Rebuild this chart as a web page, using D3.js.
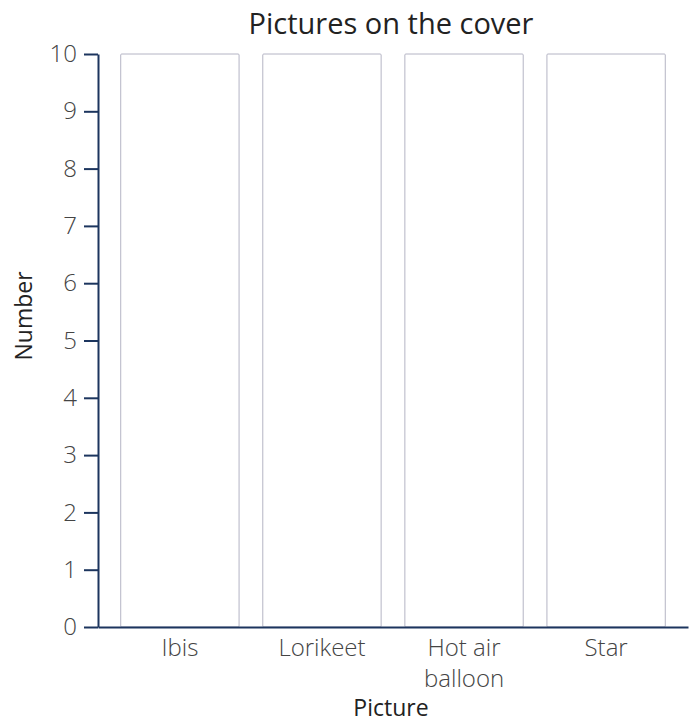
<!DOCTYPE html>
<html><head><meta charset="utf-8">
<script src="https://cdn.jsdelivr.net/npm/d3@7"></script>
<style>body{margin:0;background:#fff}text{font-family:"Open Sans",Lato,sans-serif}</style>
</head><body><svg id="c" width="691" height="722"></svg>
<script>
const categories = ["Ibis", "Lorikeet", "Hot air balloon", "Star"];
const labelLines = [["Ibis"], ["Lorikeet"], ["Hot air", "balloon"], ["Star"]];
const values = [10, 10, 10, 10];
const yTicks = [0,1,2,3,4,5,6,7,8,9,10];

const svg = d3.select("#c");
const m = {left: 98, right: 688, top: 54, bottom: 627};
const x = d3.scaleBand().domain(categories).range([m.left, m.right]).paddingInner(0.167).paddingOuter(0.16);
const y = d3.scaleLinear().domain([0, 10]).range([m.bottom, m.top]);
const axisColor = "#1c355e";

svg.append("g").selectAll("rect").data(categories).join("rect")
  .attr("x", d => x(d)).attr("y", (d,i) => y(values[i]))
  .attr("width", x.bandwidth()).attr("height", (d,i) => y(0) - y(values[i]))
  .attr("fill", "#fff").attr("stroke", "#b4b4c4").attr("stroke-width", 1).attr("rx", 1);

const ya = svg.append("g").attr("transform", `translate(${m.left},0)`)
  .call(d3.axisLeft(y).tickValues(yTicks).tickSize(14).tickPadding(7).tickSizeOuter(0));
ya.attr("font-family", null);
ya.select(".domain").attr("stroke", axisColor).attr("stroke-width", 2);
ya.selectAll(".tick line").attr("stroke", axisColor).attr("stroke-width", 2);
ya.selectAll(".tick text").attr("font-size", 24).attr("font-weight", 300).attr("fill", "#444");

const xa = svg.append("g").attr("transform", `translate(0,${m.bottom})`)
  .call(d3.axisBottom(x).tickSize(0).tickSizeOuter(0).tickFormat(""));
xa.attr("font-family", null);
xa.select(".domain").attr("stroke", axisColor).attr("stroke-width", 2);
xa.selectAll(".tick").each(function(d, i) {
  const t = d3.select(this).select("text").attr("font-size", 24).attr("font-weight", 300).attr("fill", "#444").attr("dy", null).attr("y", 29);
  labelLines[i].forEach((ln, j) => t.append("tspan").attr("x", 0).attr("dy", j === 0 ? 0 : 31).text(ln));
});

svg.append("text").attr("x", 391).attr("y", 34).attr("text-anchor", "middle")
  .attr("font-size", 29).attr("fill", "#222").text("Pictures on the cover");
svg.append("text").attr("x", 391).attr("y", 716).attr("text-anchor", "middle")
  .attr("font-size", 23).attr("font-weight", 500).attr("fill", "#222").text("Picture");
svg.append("text").attr("transform", "translate(32,316) rotate(-90)").attr("text-anchor", "middle")
  .attr("font-size", 23).attr("font-weight", 500).attr("fill", "#222").text("Number");
</script></body></html>
